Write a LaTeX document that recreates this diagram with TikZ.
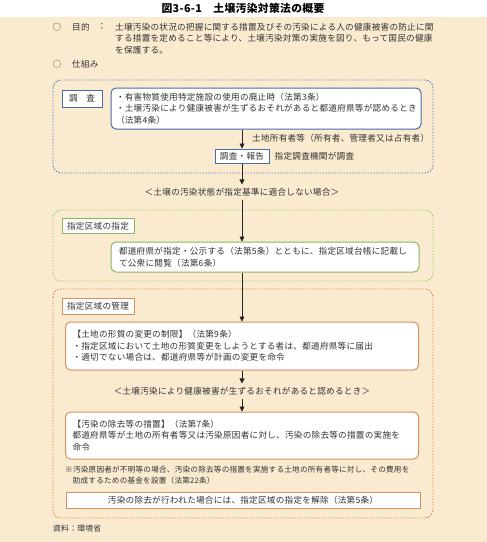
\documentclass[tikz,border=0pt]{standalone}
\usepackage{fontspec}
\setmainfont{Noto Sans CJK JP}[LetterSpace=3]
\usetikzlibrary{arrows.meta, positioning}
\definecolor{beige}{RGB}{250,234,208}
\definecolor{chosablue}{RGB}{74,108,166}
\definecolor{dotblue}{RGB}{80,120,180}
\definecolor{dotgreen}{RGB}{150,195,90}
\definecolor{shiteigreen}{RGB}{140,180,95}
\definecolor{dotorange}{RGB}{225,125,60}
\definecolor{kanriorange}{RGB}{215,145,95}

\begin{document}
\begin{tikzpicture}[x=1pt, y=-1pt,
  every node/.style={text=black!80, font=\fontsize{8.6}{11.5}\selectfont},
  dotbox/.style={dash pattern=on 1.4pt off 1.6pt, line width=0.9pt, rounded corners=8pt},
  tagbox/.style={draw, fill=white, line width=1pt, inner sep=2pt},
  textbox/.style={draw, fill=white, line width=1pt, rounded corners=5pt, align=left},
  flow/.style={-{Triangle[length=5pt,width=5pt]}, line width=0.6pt, black!85}]
\useasboundingbox (0,0) rectangle (487,542);
\fill[beige] (0,17) rectangle (487,542);
\node[font=\fontsize{10.8}{13}\selectfont\bfseries, text=black] (title) at (243,8) {図3-6-1　土壌汚染対策法の概要};
\node (maru1) at (57,27) {○};
\node[anchor=west, inner sep=0] (mokuteki) at (72,27) {目的};
\node (colon) at (102,27) {：};
\node[anchor=west, inner sep=0, align=left] (mokutekitext) at (115,38.5) {土壌汚染の状況の把握に関する措置及びその汚染による人の健康被害の防止に関\\する措置を定めること等により、土壌汚染対策の実施を図り、もって国民の健康\\を保護する。};
\node (maru2) at (57,64) {○};
\node[anchor=west, inner sep=0] (shikumi) at (72,64) {仕組み};
\draw[dotbox, dotblue] (53,80) rectangle (433,173);
\node[tagbox, draw=chosablue, minimum width=40pt, minimum height=17pt] (chosa) at (82,98.5) {調\hspace{1em}査};
\node[textbox, draw=chosablue, text width=300pt, inner xsep=5pt, minimum height=41pt] (jiki) at (266,108.5) {・有害物質使用特定施設の使用の廃止時（法第3条）\\・土壌汚染により健康被害が生ずるおそれがあると都道府県等が認めるとき\\（法第4条）};
\node[tagbox, draw=chosablue, minimum width=54pt, minimum height=14pt] (hokoku) at (242,156) {調査・報告};
\node[right=5pt of hokoku, inner sep=0] (kikan) {指定調査機関が調査};
\node[anchor=west, inner sep=0] (shoyusha) at (252,138) {土地所有者等（所有者、管理者又は占有者）};
\node (futekigo) at (242,192) {＜土壌の汚染状態が指定基準に適合しない場合＞};
\draw[dotbox, dotgreen] (53,210) rectangle (433,281);
\node[tagbox, draw=shiteigreen, minimum width=72pt, minimum height=15pt] (shitei) at (98,226) {指定区域の指定};
\node[textbox, draw=shiteigreen, text width=292pt, inner xsep=8pt, minimum height=30pt] (koji) at (265,257) {都道府県が指定・公示する（法第5条）とともに、指定区域台帳に記載し\\て公衆に閲覧（法第6条）};
\draw[dotbox, dotorange] (53,289) rectangle (433,518);
\node[tagbox, draw=kanriorange, minimum width=72pt, minimum height=16pt] (kanri) at (98,306) {指定区域の管理};
\node[textbox, draw=kanriorange, text width=339pt, inner xsep=7pt, minimum height=48pt] (seigen) at (242,346) {【土地の形質の変更の制限】（法第9条）\\・指定区域において土地の形質変更をしようとする者は、都道府県等に届出\\・適切でない場合は、都道府県等が計画の変更を命令};
\node (kenko) at (242,391) {＜土壌汚染により健康被害が生ずるおそれがあると認めるとき＞};
\node[textbox, draw=kanriorange, text width=339pt, inner xsep=7pt, minimum height=47pt] (jokyo) at (242,435.5) {【汚染の除去等の措置】（法第7条）\\都道府県等が土地の所有者等又は汚染原因者に対し、汚染の除去等の措置の実施を\\命令};
\node[anchor=west, inner sep=0, align=left, font=\fontsize{7.6}{11}\selectfont] (kikin) at (65,475.5) {※汚染原因者が不明等の場合、汚染の除去等の措置を実施する土地の所有者等に対し、その費用を\\\hspace*{1em}助成するための基金を設置（法第22条）};
\node[draw=kanriorange, fill=white, line width=1pt, minimum width=354pt, minimum height=16pt] (kaijo) at (243,500) {汚染の除去が行われた場合には、指定区域の指定を解除（法第5条）};
\node[anchor=west, inner sep=0, font=\fontsize{7.8}{10}\selectfont] (shiryo) at (53,529) {資料：環境省};
\draw[flow] (jiki.south -| hokoku.north) -- (hokoku.north);
\draw[flow] (hokoku.south) -- (futekigo.north);
\draw[flow] (futekigo.south) -- (futekigo.south |- koji.north);
\draw[flow] (koji.south -| seigen.north) -- (seigen.north);
\draw[flow] (seigen.south) -- (kenko.north);
\draw[flow] (kenko.south) -- (jokyo.north);
\end{tikzpicture}
\end{document}
